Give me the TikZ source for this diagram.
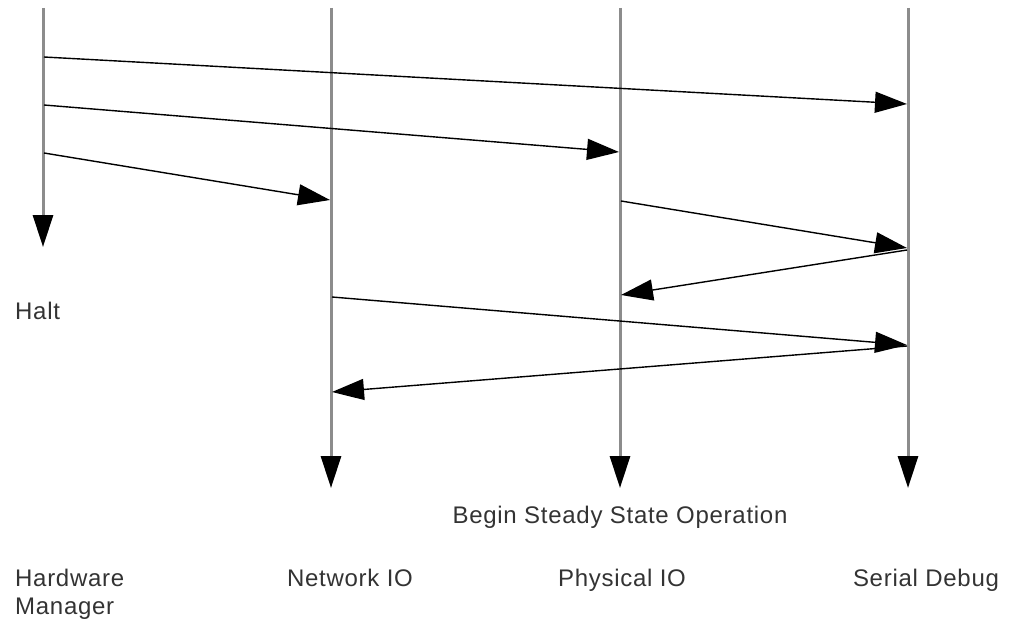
\documentclass[tikz,border=0pt]{standalone}
\usepackage{fontspec}
\setmainfont{Liberation Sans}
\newfontfamily\lblfont[LetterSpace=3]{Liberation Sans}
\usetikzlibrary{arrows.meta}

\begin{document}
\begin{tikzpicture}[x=1pt, y=-1pt,
  lifeline/.style={draw=black!45, line width=3pt, -{Triangle[length=32pt,width=20pt,color=black]}},
  msg/.style={draw=black, line width=1.4pt, -{Triangle[length=32pt,width=21pt]}},
  lbl/.style={font=\lblfont\fontsize{24}{28}\selectfont, text=black!80, inner sep=0pt}]

\useasboundingbox (0,0) rectangle (1010,626);

% Define coordinates
\coordinate (hmtop) at (43,8);    % Hardware Manager
\coordinate (hmend) at (43,247);
\coordinate (niotop) at (331,8);  % Network IO
\coordinate (nioend) at (331,488);
\coordinate (piotop) at (620,8);  % Physical IO
\coordinate (pioend) at (620,488);
\coordinate (sdtop) at (908,8);   % Serial Debug
\coordinate (sdend) at (908,488);

% Draw lifelines
\draw[lifeline] (hmtop) -- (hmend);
\draw[lifeline] (niotop) -- (nioend);
\draw[lifeline] (piotop) -- (pioend);
\draw[lifeline] (sdtop) -- (sdend);

% Message end points
\coordinate (hma) at (44,57);   \coordinate (sda) at (907,104);
\coordinate (hmb) at (44,105);  \coordinate (pioa) at (619,152);
\coordinate (hmc) at (44,153);  \coordinate (nioa) at (330,200);
\coordinate (piob) at (621,201); \coordinate (sdb) at (907,248);
\coordinate (sdc) at (907,250);  \coordinate (pioc) at (621,295);
\coordinate (niob) at (332,297); \coordinate (sdd) at (907,345);
\coordinate (sde) at (907,346);  \coordinate (nioc) at (332,392);

% Draw messages
\draw[msg] (hma) -- (sda);
\draw[msg] (hmb) -- (pioa);
\draw[msg] (hmc) -- (nioa);
\draw[msg] (piob) -- (sdb);
\draw[msg] (sdc) -- (pioc);
\draw[msg] (niob) -- (sdd);
\draw[msg] (sde) -- (nioc);

% Labels
\node[lbl, anchor=west] (halt) at (15,311) {Halt};
\node[lbl] (steady) at (620,517) {Begin Steady State Operation};
\node[lbl, anchor=north west, align=left] (hmname) at (15,569) {Hardware\\Manager};
\node[lbl, anchor=north] (nioname) at (350,569) {Network IO};
\node[lbl, anchor=north] (pioname) at (622,569) {Physical IO};
\node[lbl, anchor=north] (sdname) at (926,569) {Serial Debug};

\end{tikzpicture}
\end{document}
